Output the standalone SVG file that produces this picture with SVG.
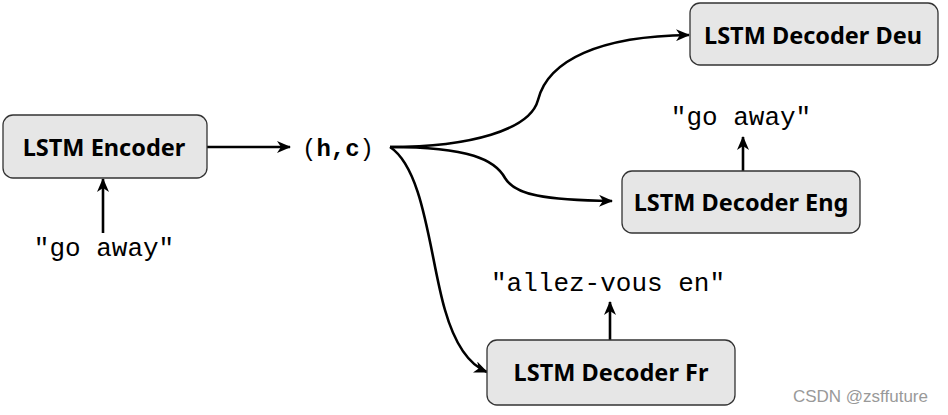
<svg xmlns="http://www.w3.org/2000/svg" width="948" height="415" viewBox="0 0 948 415">
<style>
.box{fill:#e6e6e6;stroke:#333;stroke-width:1.3}
.lbl{font-family:"Noto Sans","Open Sans",sans-serif;font-weight:bold;font-size:23.5px;fill:#000;text-anchor:middle;dominant-baseline:central}
.mono{font-family:"Liberation Mono","Courier New",monospace;font-size:26px;fill:#000;text-anchor:middle}
.conn{fill:none;stroke:#000;stroke-width:2.6}
</style>
<defs>
<marker id="ah" viewBox="0 0 14 12" refX="13" refY="6" markerWidth="14" markerHeight="12" markerUnits="userSpaceOnUse" orient="auto">
<path d="M0,0 L14,6 L0,12 L4,6 Z" fill="#000"/>
</marker>
</defs>
<rect width="948" height="415" fill="#fff"/>
<g id="connectors">
<line class="conn" x1="207" y1="147" x2="290" y2="147" marker-end="url(#ah)"/>
<line class="conn" x1="103" y1="233" x2="103" y2="179" marker-end="url(#ah)"/>
<path class="conn" d="M390,147 C470,147 530,130 538,100 C548,60 600,36 689,35" marker-end="url(#ah)"/>
<path class="conn" d="M390,147 C470,147 495,160 505,178 C515,195 545,200 612,201" marker-end="url(#ah)"/>
<path class="conn" d="M390,147 C425,170 430,260 445,310 C455,345 470,365 487,372" marker-end="url(#ah)"/>
<line class="conn" x1="743" y1="171" x2="743" y2="137" marker-end="url(#ah)"/>
<line class="conn" x1="610" y1="340" x2="610" y2="302" marker-end="url(#ah)"/>
</g>
<g id="encoder">
<rect class="box" x="3" y="115" width="204" height="63" rx="10"/>
<text class="lbl" x="104" y="147">LSTM Encoder</text>
</g>
<g id="input-text">
<text class="mono" x="104" y="256">"go away"</text>
</g>
<g id="state">
<text font-family="Liberation Mono,'Courier New',monospace" font-size="24" x="338" y="156" text-anchor="middle">(<tspan font-weight="bold">h,c</tspan>)</text>
</g>
<g id="decoder-deu">
<rect class="box" x="690" y="3" width="248" height="62" rx="10"/>
<text class="lbl" x="813" y="35">LSTM Decoder Deu</text>
</g>
<g id="decoder-eng">
<rect class="box" x="622" y="171" width="238" height="62" rx="10"/>
<text class="lbl" x="741" y="202">LSTM Decoder Eng</text>
</g>
<g id="eng-output">
<text class="mono" x="741" y="125">"go away"</text>
</g>
<g id="decoder-fr">
<rect class="box" x="487" y="340" width="248" height="65" rx="10"/>
<text class="lbl" x="611" y="372">LSTM Decoder Fr</text>
</g>
<g id="fr-output">
<text class="mono" x="608" y="291">"allez-vous en"</text>
</g>
<text x="928" y="402" font-family="Liberation Sans,Arial,sans-serif" font-size="17" fill="#999" text-anchor="end">CSDN @zsffuture</text>
</svg>
